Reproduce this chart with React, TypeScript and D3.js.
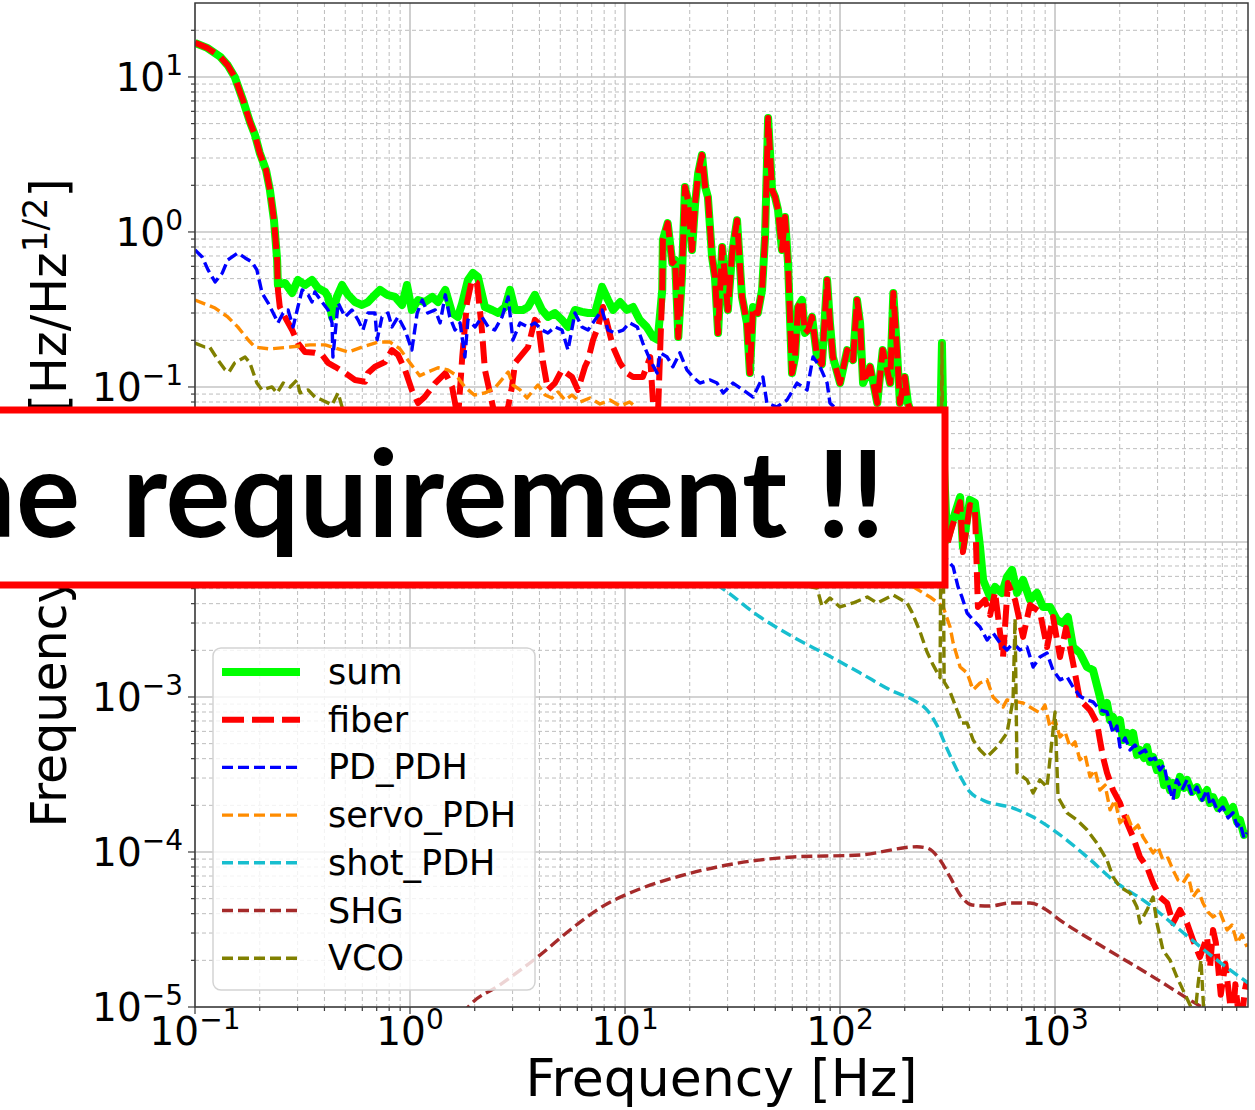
import React from "react";
import * as d3 from "d3";

type Pt = [number, number];

// ---- data (frequency [Hz], value) ----
const commonLow: Pt[] = [
  [0.1, 16.6], [0.114, 15.4], [0.131, 13.5], [0.142, 11.9], [0.153, 10], [0.167, 7.11],
  [0.18, 5.13], [0.19, 4.23], [0.2, 3.24], [0.214, 2.51], [0.223, 1.87], [0.233, 1.19], [0.241, 0.66],
];

const sumMid: Pt[] = [
  [0.243, 0.455], [0.262, 0.469], [0.283, 0.404], [0.301, 0.49], [0.325, 0.455], [0.35, 0.49],
  [0.373, 0.435], [0.403, 0.41], [0.416, 0.381], [0.434, 0.283], [0.457, 0.381], [0.483, 0.455],
  [0.515, 0.393], [0.555, 0.353], [0.598, 0.338], [0.638, 0.353], [0.687, 0.393], [0.725, 0.423],
  [0.782, 0.393], [0.852, 0.381], [0.918, 0.338], [0.968, 0.455], [1.02, 0.314], [1.09, 0.364],
  [1.17, 0.353], [1.27, 0.381], [1.35, 0.353], [1.46, 0.423], [1.57, 0.3], [1.67, 0.283],
  [1.75, 0.348], [1.86, 0.49], [1.96, 0.544], [2.07, 0.513], [2.23, 0.328], [2.41, 0.314],
  [2.57, 0.3], [2.77, 0.328], [2.92, 0.423], [3.08, 0.314], [3.35, 0.314], [3.54, 0.328],
  [3.81, 0.393], [4.11, 0.314], [4.38, 0.283], [4.72, 0.3], [5.09, 0.271], [5.43, 0.244],
  [5.85, 0.314], [6.31, 0.305], [6.73, 0.3], [7.25, 0.3], [7.82, 0.442], [8.34, 0.364],
  [8.8, 0.314], [9.48, 0.353], [10.2, 0.314], [10.9, 0.328], [11.7, 0.271], [12.6, 0.244],
  [13.5, 0.21], [14.2, 0.201],
];

const fiberMid: Pt[] = [
  [0.243, 0.423], [0.248, 0.328], [0.262, 0.283], [0.283, 0.233], [0.301, 0.192], [0.325, 0.168],
  [0.361, 0.166], [0.39, 0.161], [0.416, 0.143], [0.448, 0.135], [0.499, 0.123], [0.555, 0.111],
  [0.618, 0.108], [0.638, 0.123], [0.687, 0.135], [0.765, 0.145], [0.825, 0.173], [0.88, 0.161],
  [0.948, 0.129], [1.02, 0.0957], [1.09, 0.0788], [1.17, 0.0861], [1.31, 0.106], [1.46, 0.123],
  [1.57, 0.1], [1.62, 0.0788], [1.67, 0.0612], [1.75, 0.156], [1.84, 0.348], [1.94, 0.49],
  [2.05, 0.469], [2.16, 0.233], [2.23, 0.129], [2.41, 0.0788], [2.62, 0.0455], [2.86, 0.0743],
  [2.98, 0.1], [3.08, 0.143], [3.54, 0.181], [3.81, 0.271], [3.94, 0.259], [4.16, 0.143],
  [4.38, 0.0957], [4.72, 0.106], [5.09, 0.129], [5.67, 0.116], [6.04, 0.0957], [6.51, 0.135],
  [6.73, 0.149], [7.1, 0.201], [7.49, 0.244], [7.9, 0.328], [8.34, 0.244], [8.8, 0.181],
  [9.48, 0.143], [10.2, 0.123], [10.9, 0.116], [12.1, 0.116], [13.1, 0.156], [13.5, 0.0788],
  [14.1, 0.0455],
];

const peakBand: Pt[] = [
  [14.9, 0.423], [15.0, 0.888], [15.8, 1.14], [16.6, 0.631], [17.1, 0.66], [17.7, 0.21],
  [18.4, 0.513], [19.0, 1.95], [19.6, 1.61], [20.5, 0.766], [21.2, 1.54], [21.9, 2.4],
  [22.8, 3.14], [23.6, 1.95], [24.3, 1.68], [25.4, 0.69], [26.2, 0.513], [27.1, 0.223],
  [28.3, 0.8], [29.2, 0.513], [30.1, 0.314], [31.5, 0.732], [33.2, 1.19], [35.0, 0.381],
  [36.9, 0.259], [38.1, 0.123], [39.4, 0.328], [41.5, 0.3], [43.4, 0.423], [44.8, 0.929],
  [46.3, 5.43], [48.3, 1.87], [49.9, 1.68], [51.5, 1.39], [53.7, 0.766], [55.5, 1.25],
  [57.3, 0.631], [59.8, 0.123], [61.8, 0.156], [63.8, 0.328], [66.6, 0.364], [68.7, 0.223],
  [71.0, 0.233], [74.1, 0.283], [78.2, 0.156], [82.4, 0.14], [87.1, 0.49], [89.8, 0.259],
  [92.7, 0.156], [100, 0.106], [108, 0.173], [115, 0.149], [120, 0.364], [124, 0.259],
  [128, 0.106], [138, 0.135], [149, 0.0788], [158, 0.173], [171, 0.106], [177, 0.404],
  [184, 0.173], [190, 0.0788], [200, 0.116], [207, 0.0788],
];

const sumHigh: Pt[] = [
  [236, 0.0455], [262, 0.0338], [292, 0.0455], [298, 0.192], [305, 0.0292], [315, 0.0103],
  [332, 0.0133], [362, 0.0195], [373, 0.00929], [402, 0.0187], [424, 0.0179], [448, 0.00929],
  [463, 0.00569], [499, 0.00442], [526, 0.00513], [567, 0.00469], [598, 0.00595], [631, 0.0066],
  [666, 0.00469], [710, 0.00569], [765, 0.00423], [824, 0.00469], [879, 0.00381], [948, 0.00381],
  [1021, 0.00314], [1089, 0.003], [1148, 0.00328], [1213, 0.0021], [1306, 0.00192], [1408, 0.00156],
  [1503, 0.00149], [1618, 0.001], [1672, 0.0008], [1745, 0.000915], [1803, 0.000711],
  [1862, 0.000743], [1941, 0.000631], [2005, 0.000711], [2070, 0.000528], [2162, 0.000586],
  [2233, 0.000513], [2306, 0.000586], [2405, 0.000423], [2484, 0.000455], [2595, 0.000404],
  [2680, 0.000475], [2766, 0.000381], [2858, 0.00041], [2979, 0.000338], [3076, 0.000375],
  [3213, 0.00027], [3319, 0.000292], [3427, 0.000251], [3540, 0.000279], [3656, 0.000233],
  [3812, 0.000305], [3981, 0.000259], [4110, 0.000292], [4336, 0.000244], [4571, 0.000262],
  [4831, 0.000223], [5093, 0.000251], [5260, 0.000207], [5433, 0.000226], [5730, 0.000192],
  [6040, 0.000216], [6383, 0.000181], [6730, 0.000195], [7030, 0.000156], [7250, 0.000161],
  [7570, 0.000129], [7816, 0.000139],
];

const fiberHigh: Pt[] = [
  [236, 0.0455], [262, 0.0338], [315, 0.00957], [332, 0.0125], [362, 0.0181], [373, 0.00862],
  [402, 0.0173], [424, 0.0168], [438, 0.00381], [472, 0.00423], [499, 0.00338], [526, 0.00475],
  [573, 0.00181], [604, 0.00543], [652, 0.00423], [710, 0.00244], [765, 0.00392], [851, 0.00353],
  [918, 0.0021], [979, 0.00328], [1055, 0.00181], [1125, 0.00279], [1213, 0.00166], [1306, 0.000957],
  [1455, 0.000824], [1567, 0.00068], [1618, 0.000528], [1672, 0.00041], [1745, 0.000324],
  [1862, 0.000251], [2005, 0.000207], [2162, 0.000154], [2306, 0.000125], [2484, 9.29e-5],
  [2680, 8.0e-5], [2858, 6.31e-5], [3076, 5.13e-5], [3319, 4.69e-5], [3540, 3.48e-5], [3812, 4.23e-5],
  [4110, 3.48e-5], [4385, 2.7e-5], [4721, 2.1e-5], [5093, 2.83e-5], [5260, 1.8e-5], [5433, 3.14e-5],
  [5600, 2.6e-5], [5900, 1.2e-5], [6200, 1.9e-5], [6516, 1.06e-5], [6700, 8.0e-6], [6900, 1.4e-5],
  [7200, 8.0e-6], [7490, 1.0e-5], [7650, 1.3e-5], [7816, 1.49e-5],
];

const pdPdh: Pt[] = [
  [0.1, 0.766], [0.108, 0.69], [0.115, 0.569], [0.124, 0.476], [0.134, 0.544], [0.142, 0.66],
  [0.158, 0.732], [0.171, 0.68], [0.184, 0.64], [0.194, 0.569], [0.205, 0.404], [0.219, 0.348],
  [0.236, 0.283], [0.243, 0.259], [0.257, 0.3], [0.271, 0.314], [0.286, 0.244], [0.301, 0.328],
  [0.315, 0.423], [0.336, 0.393], [0.35, 0.353], [0.361, 0.41], [0.39, 0.353], [0.416, 0.314],
  [0.434, 0.259], [0.438, 0.156], [0.463, 0.348], [0.499, 0.283], [0.537, 0.314], [0.573, 0.271],
  [0.604, 0.233], [0.638, 0.3], [0.687, 0.3], [0.703, 0.201], [0.741, 0.283], [0.79, 0.3],
  [0.825, 0.244], [0.88, 0.283], [0.948, 0.233], [1.02, 0.173], [1.08, 0.3], [1.14, 0.364],
  [1.21, 0.3], [1.31, 0.314], [1.38, 0.259], [1.46, 0.393], [1.53, 0.283], [1.62, 0.233],
  [1.71, 0.259], [1.8, 0.156], [1.86, 0.271], [2.01, 0.244], [2.16, 0.283], [2.31, 0.244],
  [2.48, 0.233], [2.68, 0.283], [2.86, 0.381], [3.01, 0.201], [3.25, 0.259], [3.54, 0.244],
  [3.81, 0.259], [4.11, 0.233], [4.38, 0.223], [4.72, 0.244], [5.09, 0.233], [5.43, 0.173],
  [5.85, 0.3], [6.31, 0.244], [6.73, 0.233], [7.25, 0.271], [7.82, 0.314], [8.34, 0.233],
  [8.98, 0.223], [9.79, 0.233], [10.5, 0.259], [11.4, 0.244], [12.1, 0.192], [13.1, 0.149],
  [14.1, 0.123], [14.6, 0.166], [15.7, 0.156], [16.7, 0.135], [18.0, 0.166], [19.4, 0.129],
  [20.7, 0.116], [22.3, 0.106], [24.9, 0.111], [26.8, 0.106], [28.6, 0.0915], [31.8, 0.106],
  [35.4, 0.0957], [39.4, 0.0861], [43.8, 0.116], [45.7, 0.0788], [50.9, 0.0743], [56.7, 0.0824],
  [63.1, 0.106], [70.3, 0.0957], [74.9, 0.156], [80.7, 0.135], [87.1, 0.106], [89.8, 0.0788],
  [138, 0.0455], [212, 0.0187], [315, 0.00765], [336, 0.0069], [354, 0.00513], [369, 0.00442],
  [390, 0.00348], [416, 0.00314], [448, 0.00283], [483, 0.00233], [515, 0.00259], [555, 0.00223],
  [598, 0.00201], [638, 0.00223], [687, 0.00201], [741, 0.0021], [791, 0.00156], [851, 0.00181],
  [918, 0.00192], [979, 0.00149], [1055, 0.00129], [1137, 0.00135], [1213, 0.00116], [1306, 0.00101],
  [1408, 0.000957], [1503, 0.000929], [1618, 0.000824], [1745, 0.0008], [1862, 0.000586],
  [1941, 0.00065], [2005, 0.000475], [2118, 0.000543], [2233, 0.000455], [2355, 0.00049],
  [2484, 0.000435], [2624, 0.000455], [2766, 0.000393], [2917, 0.000404], [3076, 0.000338],
  [3213, 0.000364], [3319, 0.000292], [3427, 0.000251], [3540, 0.000216], [3614, 0.00027],
  [3690, 0.000292], [3899, 0.000251], [4110, 0.000292], [4336, 0.000233], [4571, 0.000262],
  [4831, 0.000216], [5093, 0.000251], [5260, 0.000201], [5433, 0.000216], [5730, 0.000181],
  [6040, 0.000195], [6383, 0.000166], [6730, 0.000179], [7030, 0.000147], [7250, 0.000154],
  [7570, 0.000123], [7816, 0.000133],
];

const servoPdh: Pt[] = [
  [0.1, 0.364], [0.124, 0.323], [0.142, 0.283], [0.158, 0.244], [0.177, 0.201], [0.19, 0.181],
  [0.223, 0.176], [0.277, 0.181], [0.343, 0.187], [0.403, 0.187], [0.463, 0.176], [0.515, 0.168],
  [0.598, 0.181], [0.71, 0.195], [0.807, 0.195], [0.898, 0.176], [1.0, 0.143], [1.11, 0.118],
  [1.21, 0.125], [1.35, 0.133], [1.5, 0.129], [1.64, 0.119], [1.8, 0.1], [1.99, 0.0888],
  [2.23, 0.0915], [2.48, 0.0986], [2.71, 0.114], [2.86, 0.125], [3.01, 0.103], [3.25, 0.0957],
  [3.5, 0.0849], [3.69, 0.0929], [3.94, 0.103], [4.25, 0.0888], [4.57, 0.0849], [4.88, 0.0929],
  [5.26, 0.0824], [5.67, 0.0888], [6.18, 0.08], [6.87, 0.0849], [7.65, 0.0777], [8.51, 0.0824],
  [9.48, 0.0754], [10.5, 0.08], [11.7, 0.0711], [22.3, 0.0528], [42.4, 0.0392], [80.7, 0.0216],
  [138, 0.0103], [219, 0.00513], [262, 0.00442], [302, 0.00381], [325, 0.00283], [336, 0.00223],
  [362, 0.00156], [390, 0.00143], [416, 0.00111], [448, 0.00123], [483, 0.00129], [515, 0.001],
  [573, 0.000861], [598, 0.000957], [710, 0.000915], [851, 0.000789], [898, 0.000887],
  [948, 0.00064], [1000, 0.000711], [1055, 0.000552], [1114, 0.000595], [1175, 0.000475],
  [1239, 0.000513], [1306, 0.000393], [1380, 0.000423], [1455, 0.000305], [1535, 0.000338],
  [1618, 0.000251], [1710, 0.00027], [1803, 0.000187], [1901, 0.000216], [2005, 0.000154],
  [2162, 0.000173], [2306, 0.000139], [2432, 0.000149], [2566, 0.000125], [2710, 0.000111],
  [2858, 9.86e-5], [3013, 0.000108], [3177, 8.87e-5], [3356, 9.14e-5], [3540, 7.65e-5],
  [3733, 6.59e-5], [3936, 6.31e-5], [4156, 7.11e-5], [4385, 5.13e-5], [4624, 5.69e-5],
  [4876, 4.69e-5], [5148, 4.1e-5], [5433, 3.81e-5], [5852, 4.1e-5], [6310, 3.14e-5],
  [6653, 3.38e-5], [7030, 2.59e-5], [7413, 2.92e-5], [7816, 2.44e-5],
];

const shotPdh: Pt[] = [
  [0.1, 0.0292], [1.53, 0.0259], [4.99, 0.0173], [13.1, 0.00887], [27.7, 0.00513], [42.5, 0.00328],
  [60.4, 0.00244], [87.1, 0.00187], [124, 0.00143], [176, 0.00109], [219, 0.000957], [254, 0.000824],
  [282, 0.000659], [315, 0.000462], [362, 0.000309], [402, 0.000244], [463, 0.000216],
  [638, 0.000192], [791, 0.000168], [980, 0.000139], [1410, 9.29e-5], [1862, 6.59e-5],
  [2680, 4.69e-5], [3812, 3.14e-5], [5430, 2.1e-5], [7900, 1.43e-5],
];

const shg: Pt[] = [
  [1.75, 9.0e-6], [1.9, 1.03e-5], [2.62, 1.39e-5], [4.02, 2.16e-5], [5.55, 3.14e-5], [7.65, 4.35e-5],
  [11.7, 5.77e-5], [18.0, 7.0e-5], [29.8, 8.24e-5], [60.4, 9.29e-5], [124, 9.57e-5], [228, 1.08e-4],
  [254, 1.06e-4], [292, 8.87e-5], [325, 6.9e-5], [362, 5.28e-5], [411, 4.55e-5], [499, 4.48e-5],
  [618, 4.69e-5], [765, 4.69e-5], [898, 4.29e-5], [1054, 3.64e-5], [1618, 2.51e-5], [2765, 1.61e-5],
  [4480, 1.06e-5], [5260, 9.3e-6],
];

const vco: Pt[] = [
  [0.1, 0.192], [0.111, 0.181], [0.117, 0.181], [0.128, 0.149], [0.138, 0.129], [0.144, 0.125],
  [0.153, 0.143], [0.171, 0.156], [0.18, 0.143], [0.194, 0.106], [0.205, 0.0957], [0.228, 0.1],
  [0.241, 0.0915], [0.257, 0.106], [0.277, 0.1], [0.298, 0.111], [0.308, 0.0915], [0.336, 0.0957],
  [0.361, 0.0861], [0.39, 0.0824], [0.434, 0.0766], [0.463, 0.0915], [0.483, 0.0743], [0.526, 0.066],
  [1.53, 0.0455], [4.48, 0.0292], [13.1, 0.0161], [38.1, 0.00765], [65.2, 0.00528], [78.2, 0.00505],
  [82.4, 0.00386], [89.8, 0.00435], [100, 0.00381], [115, 0.00404], [134, 0.00442], [149, 0.00404],
  [177, 0.00455], [205, 0.00404], [216, 0.00353], [236, 0.00262], [254, 0.00195], [271, 0.00161],
  [292, 0.00133], [298, 0.192], [305, 0.00125], [325, 0.00108], [350, 0.000824], [369, 0.00068],
  [390, 0.00068], [416, 0.000528], [448, 0.000455], [483, 0.00041], [537, 0.000475], [598, 0.000586],
  [638, 0.000957], [652, 0.0032], [666, 0.000324], [741, 0.000292], [791, 0.00024], [851, 0.000292],
  [918, 0.000262], [1000, 0.0008], [1033, 0.000226], [1137, 0.000179], [1265, 0.000161],
  [1408, 0.000139], [1567, 0.000114], [1745, 8.87e-5], [1862, 6.9e-5], [2005, 5.95e-5],
  [2233, 5.43e-5], [2405, 4.42e-5], [2484, 3.48e-5], [2680, 4.23e-5], [2858, 5.13e-5],
  [2979, 3.48e-5], [3177, 2.33e-5], [3427, 2.01e-5], [3690, 1.56e-5], [3936, 1.29e-5],
  [4246, 1.03e-5], [4480, 8.87e-6], [4624, 1.39e-5], [4775, 2.01e-5], [4930, 8.87e-6],
];

const xTickExps = [-1, 0, 1, 2, 3];
const yTickExps = [-5, -4, -3, -2, -1, 0, 1];
// 10^-2 sits behind the annotation box in the reference, so its label is not drawn
const yLabelExps = [-5, -4, -3, -1, 0, 1];
const legendNames = ["sum", "fiber", "PD_PDH", "servo_PDH", "shot_PDH", "SHG", "VCO"];

// ---- layout ----
const W = 1255;
const H = 1110;
const left = 195;
const right = 1248;
const top = 3;
const bottom = 1007;
const font = "DejaVu Sans, sans-serif";

const x = d3.scaleLog().domain([0.1, 7900]).range([left, right]);
const y = d3.scaleLog().domain([1e-5, 30]).range([bottom, top]);

const line = d3.line<Pt>().x((d) => x(d[0])).y((d) => y(d[1]));
const smooth = d3.line<Pt>().x((d) => x(d[0])).y((d) => y(d[1])).curve(d3.curveMonotoneX);

const series = [
  { name: "sum", data: [...commonLow, ...sumMid, ...peakBand, ...sumHigh], color: "#00ff00", width: 8, dash: "", gen: line },
  { name: "fiber", data: [...commonLow, ...fiberMid, ...peakBand, ...fiberHigh], color: "#ff0000", width: 6, dash: "22 8", gen: line },
  { name: "PD_PDH", data: pdPdh, color: "#0000ff", width: 3.4, dash: "11 5", gen: line },
  { name: "servo_PDH", data: servoPdh, color: "#ff8c00", width: 3.4, dash: "11 5", gen: line },
  { name: "shot_PDH", data: shotPdh, color: "#17becf", width: 3.4, dash: "11 5", gen: smooth },
  { name: "SHG", data: shg, color: "#a52a2a", width: 3.4, dash: "11 5", gen: smooth },
  { name: "VCO", data: vco, color: "#808000", width: 3.4, dash: "11 5", gen: line },
];

function minorTicks(domain: number[]) {
  const out: number[] = [];
  const lo = Math.floor(Math.log10(domain[0]));
  const hi = Math.ceil(Math.log10(domain[1]));
  for (let e = lo; e <= hi; e++) {
    for (let k = 2; k <= 9; k++) {
      const v = k * Math.pow(10, e);
      if (v > domain[0] && v < domain[1]) out.push(v);
    }
  }
  return out;
}

const xMinor = minorTicks(x.domain());
const yMinor = minorTicks(y.domain());
const expText = (e: number) => (e < 0 ? "\u2212" + -e : String(e));

const App = () => {
  return (
    <div style={{ position: "absolute", left: 0, top: 0 }}>
      <svg width={W} height={H} viewBox={`0 0 ${W} ${H}`} style={{ display: "block", background: "#fff" }}>
        <defs>
          <clipPath id="plot">
            <rect x={left} y={top} width={right - left} height={bottom - top} />
          </clipPath>
        </defs>

        {/* grid */}
        <g>
          {xMinor.map((v) => (
            <line key={"xm" + v} x1={x(v)} x2={x(v)} y1={top} y2={bottom} stroke="#bdbdbd" strokeWidth={1} strokeDasharray="4 3" />
          ))}
          {yMinor.map((v) => (
            <line key={"ym" + v} x1={left} x2={right} y1={y(v)} y2={y(v)} stroke="#bdbdbd" strokeWidth={1} strokeDasharray="4 3" />
          ))}
          {xTickExps.map((e) => (
            <line key={"xg" + e} x1={x(10 ** e)} x2={x(10 ** e)} y1={top} y2={bottom} stroke="#c4c4c4" strokeWidth={1.6} />
          ))}
          {yTickExps.map((e) => (
            <line key={"yg" + e} x1={left} x2={right} y1={y(10 ** e)} y2={y(10 ** e)} stroke="#c4c4c4" strokeWidth={1.6} />
          ))}
        </g>

        {/* traces */}
        <g clipPath="url(#plot)" fill="none" strokeLinejoin="round">
          {series.map((s) => (
            <path key={s.name} d={s.gen(s.data) ?? ""} stroke={s.color} strokeWidth={s.width} strokeDasharray={s.dash || undefined} />
          ))}
        </g>

        {/* spines */}
        <rect x={left} y={top} width={right - left} height={bottom - top} fill="none" stroke="#3a3a3a" strokeWidth={1.5} />

        {/* ticks */}
        <g stroke="#3a3a3a" strokeWidth={1.2}>
          {xTickExps.map((e) => (
            <line key={"xt" + e} x1={x(10 ** e)} x2={x(10 ** e)} y1={bottom} y2={bottom + 7} />
          ))}
          {xMinor.map((v) => (
            <line key={"xtm" + v} x1={x(v)} x2={x(v)} y1={bottom} y2={bottom + 4} />
          ))}
          {yTickExps.map((e) => (
            <line key={"yt" + e} x1={left - 7} x2={left} y1={y(10 ** e)} y2={y(10 ** e)} />
          ))}
          {yMinor.map((v) => (
            <line key={"ytm" + v} x1={left - 4} x2={left} y1={y(v)} y2={y(v)} />
          ))}
        </g>

        {/* tick labels */}
        <g fontFamily={font} fill="#000">
          {xTickExps.map((e) => (
            <text key={"xl" + e} x={x(10 ** e)} y={bottom + 38} fontSize={39} textAnchor="middle">
              10<tspan fontSize={28} dy={-16}>{expText(e)}</tspan>
            </text>
          ))}
          {yLabelExps.map((e) => (
            <text key={"yl" + e} x={left - 12} y={y(10 ** e) + 14} fontSize={39} textAnchor="end">
              10<tspan fontSize={28} dy={-16}>{expText(e)}</tspan>
            </text>
          ))}
        </g>

        {/* axis labels */}
        <text x={(left + right) / 2} y={1096} fontFamily={font} fontSize={52} textAnchor="middle">
          Frequency [Hz]
        </text>
        <text transform="translate(66,503) rotate(-90)" fontFamily={font} fontSize={49} textAnchor="middle">
          Frequency noise [Hz/Hz<tspan fontSize={34} dy={-19}>1/2</tspan><tspan dy={19}>]</tspan>
        </text>

        {/* legend */}
        <g fontFamily={font}>
          <rect x={213} y={648} width={322} height={342} rx={8} fill="#fff" fillOpacity={0.8} stroke="#d3d3d3" strokeWidth={1.5} />
          {legendNames.map((n, i) => {
            const s = series[i];
            const cy = 672 + i * 47.7;
            return (
              <g key={n}>
                <line x1={222} x2={300} y1={cy} y2={cy} stroke={s.color} strokeWidth={s.width} strokeDasharray={s.dash || undefined} />
                <text x={328} y={cy + 12} fontSize={35}>{n}</text>
              </g>
            );
          })}
        </g>

        {/* annotation box */}
        <rect x={-30} y={410} width={975} height={175} fill="#fff" stroke="#ff0000" strokeWidth={7} />
        <text x={80} y={537} fontFamily="Lato, Open Sans, sans-serif" fontWeight={700} fontSize={120} textAnchor="end">
          the
        </text>
        <text x={122} y={537} fontFamily="Lato, Open Sans, sans-serif" fontWeight={700} fontSize={120} textLength={763} lengthAdjust="spacingAndGlyphs">
          requirement !!
        </text>
      </svg>
    </div>
  );
};

export default App;
